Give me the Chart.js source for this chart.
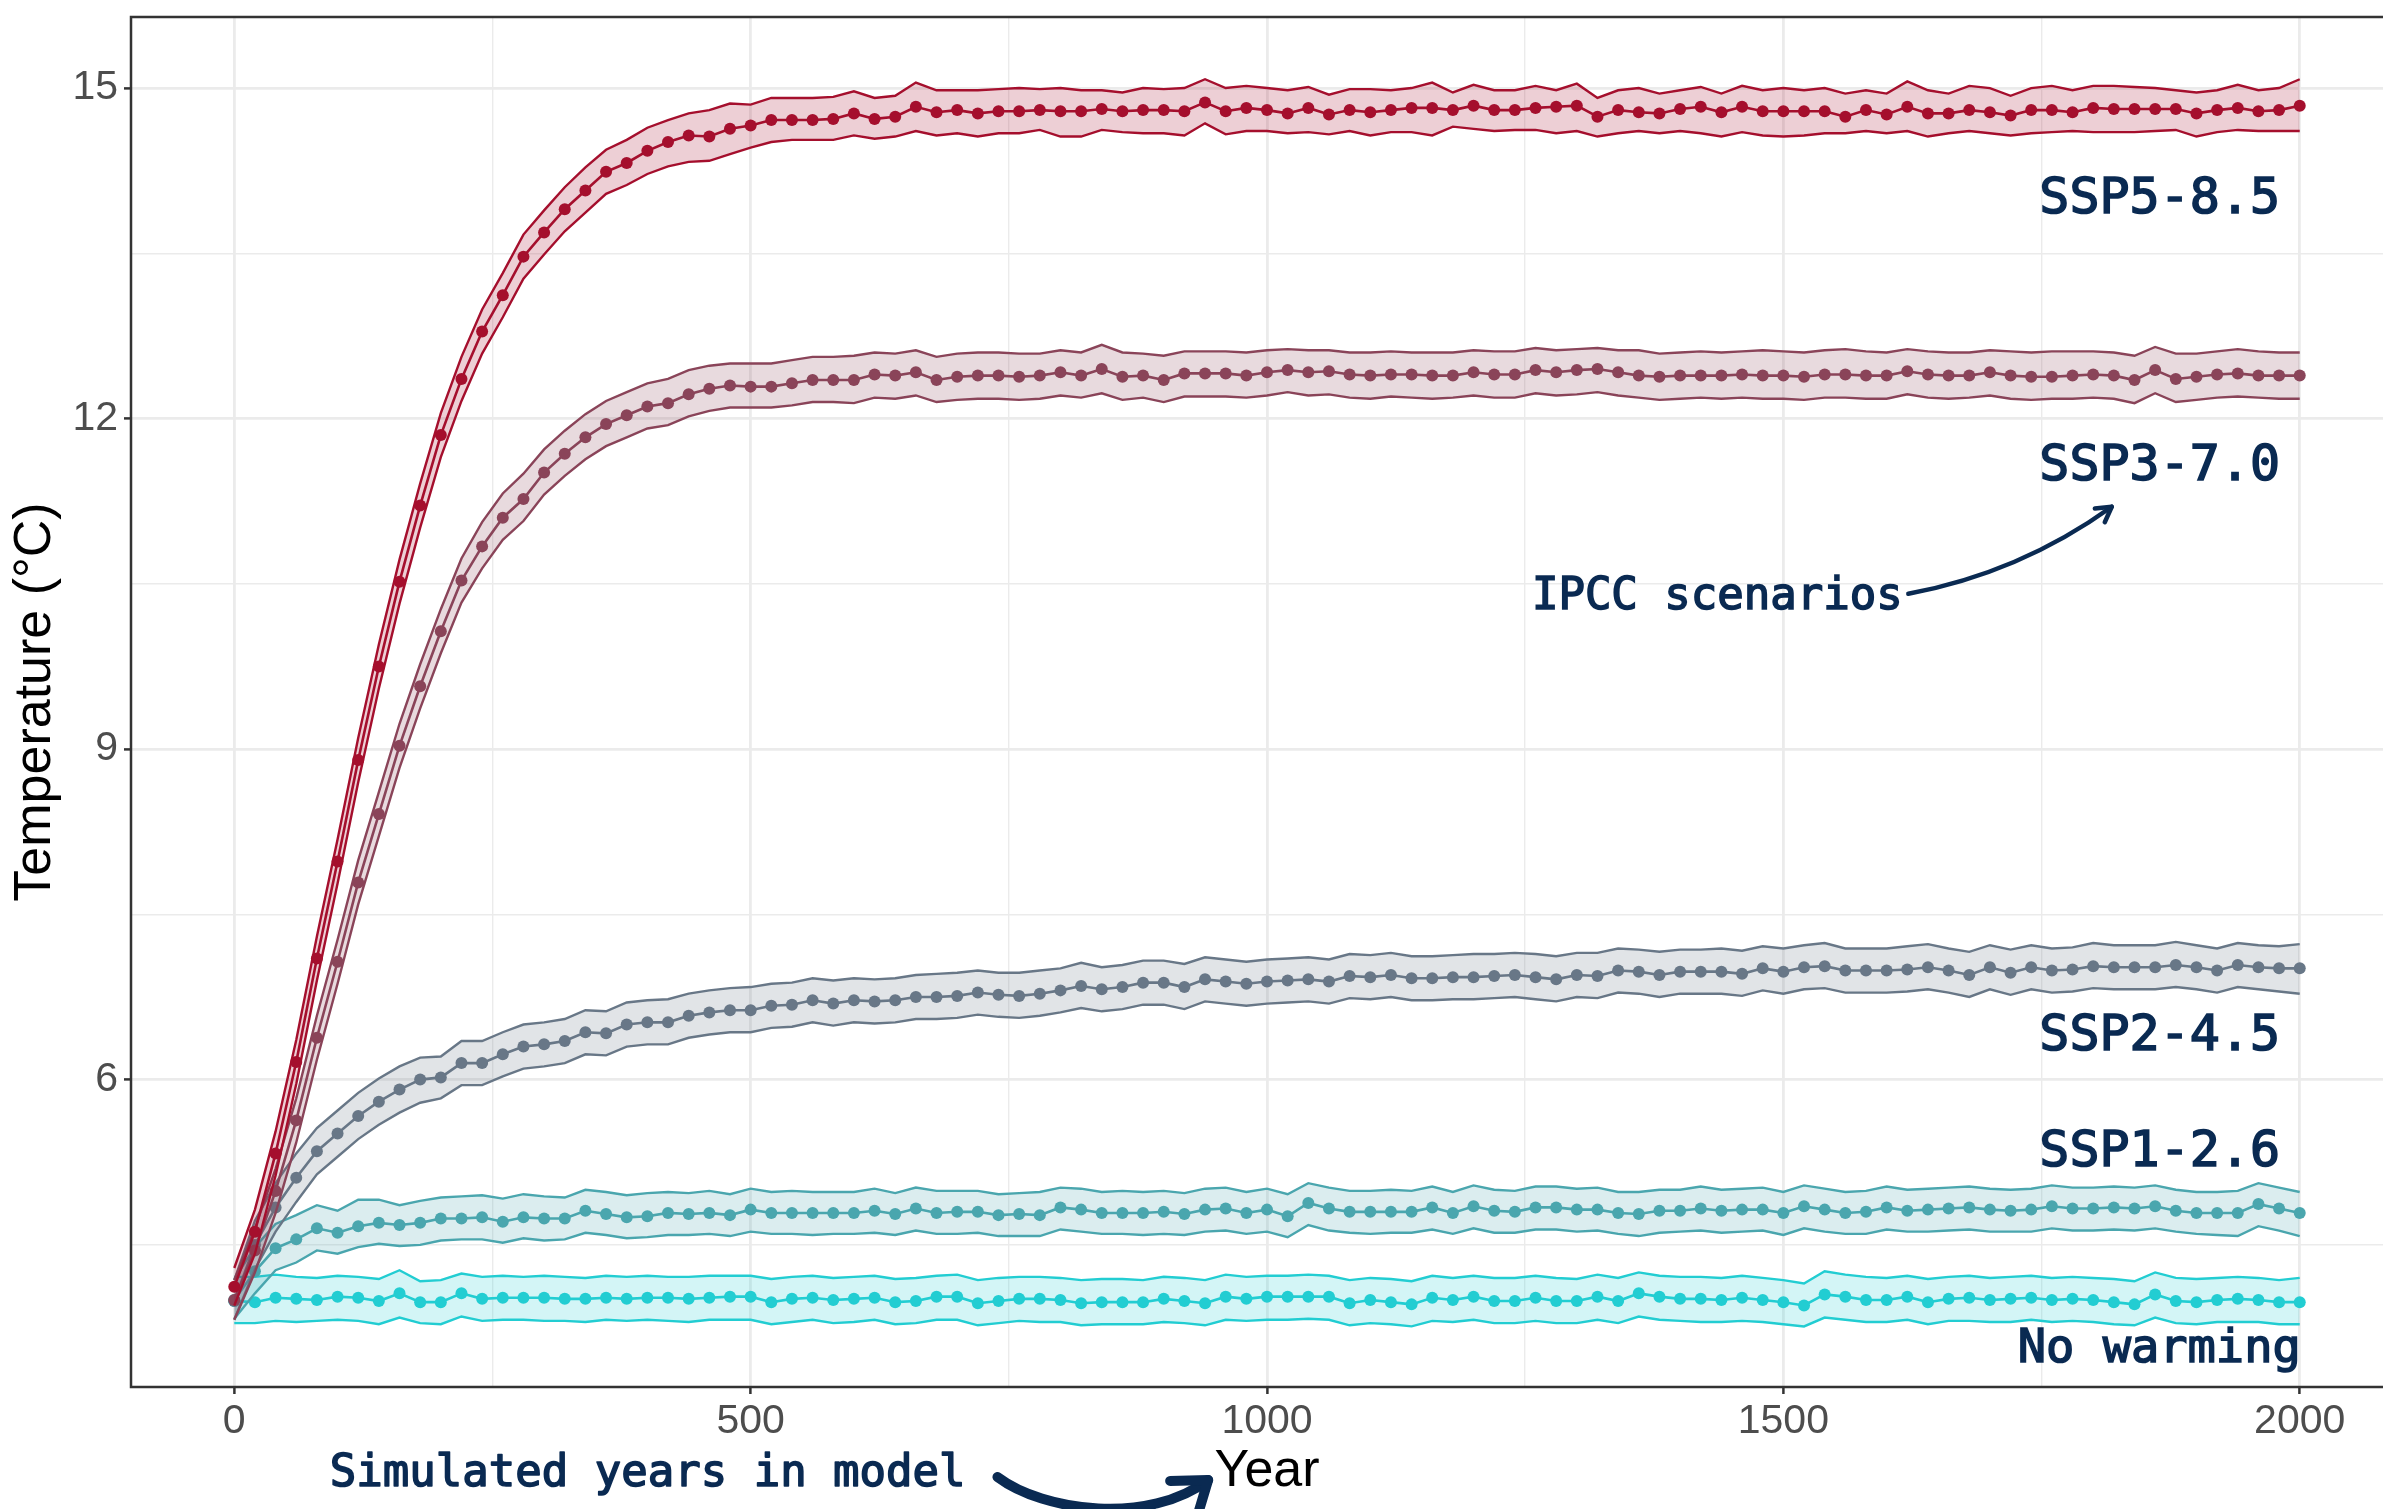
<!DOCTYPE html>
<html>
<head>
<meta charset="utf-8">
<script src="https://cdn.jsdelivr.net/npm/chart.js@4.4.1/dist/chart.umd.min.js"></script>
<style>
  html, body { margin: 0; padding: 0; background: #fff; overflow: hidden; }
  #wrap { width: 2409px; height: 1509px; }
</style>
</head>
<body>
<div id="wrap"><canvas id="c" width="2409" height="1509"></canvas></div>
<script>
// simulated year of each sample
const years = [
  0,20,40,60,80,100,120,140,160,180,
  200,220,240,260,280,300,320,340,360,380,
  400,420,440,460,480,500,520,540,560,580,
  600,620,640,660,680,700,720,740,760,780,
  800,820,840,860,880,900,920,940,960,980,
  1000,1020,1040,1060,1080,1100,1120,1140,1160,1180,
  1200,1220,1240,1260,1280,1300,1320,1340,1360,1380,
  1400,1420,1440,1460,1480,1500,1520,1540,1560,1580,
  1600,1620,1640,1660,1680,1700,1720,1740,1760,1780,
  1800,1820,1840,1860,1880,1900,1920,1940,1960,1980,
  2000
];

const ssp585Mean = [
  4.12,4.62,5.33,6.16,7.10,7.98,8.90,9.75,10.52,11.21,
  11.85,12.36,12.79,13.12,13.47,13.69,13.90,14.07,14.24,14.32,
  14.43,14.51,14.57,14.56,14.63,14.66,14.71,14.71,14.71,14.72,
  14.77,14.72,14.74,14.83,14.78,14.80,14.77,14.79,14.79,14.80,
  14.79,14.79,14.81,14.79,14.80,14.80,14.79,14.87,14.79,14.82,
  14.80,14.77,14.82,14.76,14.80,14.78,14.80,14.82,14.82,14.80,
  14.84,14.80,14.80,14.82,14.83,14.84,14.74,14.80,14.78,14.77,
  14.81,14.83,14.78,14.83,14.79,14.79,14.79,14.79,14.74,14.80,
  14.76,14.83,14.77,14.77,14.80,14.78,14.75,14.80,14.80,14.78,
  14.82,14.81,14.81,14.81,14.81,14.77,14.80,14.82,14.79,14.80,
  14.84
];
const ssp585Upper = [
  4.29,4.82,5.53,6.36,7.30,8.18,9.10,9.95,10.72,11.41,
  12.05,12.56,12.99,13.32,13.67,13.89,14.10,14.28,14.44,14.53,
  14.64,14.71,14.77,14.80,14.86,14.85,14.91,14.91,14.91,14.92,
  14.97,14.91,14.93,15.05,14.98,14.98,14.98,14.99,15.00,14.99,
  15.00,14.98,14.98,14.96,15.00,14.99,15.00,15.08,15.00,15.02,
  15.00,14.98,15.01,14.94,14.99,14.99,14.98,15.00,15.05,14.96,
  15.03,14.98,14.98,15.02,14.98,15.04,14.91,14.98,15.00,14.95,
  14.98,15.01,14.95,15.02,14.98,15.00,14.98,15.00,14.95,14.98,
  14.95,15.06,14.98,14.95,15.02,15.00,14.93,15.00,15.02,14.98,
  15.02,15.02,15.01,15.00,14.98,14.96,14.98,15.03,14.98,15.00,
  15.08
];
const ssp585Lower = [
  3.95,4.42,5.13,5.96,6.90,7.78,8.70,9.55,10.32,11.01,
  11.65,12.16,12.59,12.92,13.27,13.49,13.70,13.87,14.04,14.12,
  14.22,14.29,14.33,14.34,14.40,14.46,14.51,14.53,14.53,14.53,
  14.57,14.54,14.56,14.61,14.57,14.59,14.56,14.59,14.59,14.62,
  14.56,14.56,14.62,14.60,14.59,14.59,14.57,14.68,14.58,14.61,
  14.61,14.59,14.60,14.58,14.61,14.57,14.60,14.60,14.57,14.65,
  14.63,14.61,14.62,14.62,14.59,14.61,14.56,14.59,14.61,14.59,
  14.61,14.59,14.56,14.60,14.57,14.56,14.57,14.59,14.59,14.61,
  14.59,14.61,14.56,14.59,14.61,14.59,14.57,14.59,14.60,14.61,
  14.60,14.60,14.60,14.61,14.62,14.56,14.60,14.62,14.61,14.61,
  14.61
];

const ssp370Mean = [
  4.00,4.45,4.99,5.63,6.38,7.07,7.79,8.41,9.03,9.57,
  10.07,10.53,10.84,11.10,11.27,11.51,11.68,11.83,11.95,12.03,
  12.11,12.14,12.22,12.27,12.30,12.29,12.29,12.32,12.35,12.35,
  12.35,12.40,12.39,12.42,12.35,12.38,12.39,12.39,12.38,12.39,
  12.42,12.39,12.45,12.38,12.39,12.35,12.41,12.41,12.41,12.39,
  12.42,12.44,12.42,12.43,12.40,12.39,12.40,12.40,12.39,12.39,
  12.42,12.40,12.40,12.44,12.42,12.44,12.45,12.42,12.39,12.38,
  12.39,12.39,12.39,12.40,12.39,12.39,12.38,12.40,12.40,12.39,
  12.39,12.43,12.40,12.39,12.39,12.42,12.39,12.38,12.38,12.39,
  12.40,12.39,12.35,12.44,12.36,12.38,12.40,12.41,12.39,12.39,
  12.39
];
const ssp370Upper = [
  4.18,4.65,5.19,5.83,6.58,7.27,7.99,8.61,9.23,9.77,
  10.27,10.73,11.06,11.32,11.50,11.72,11.89,12.04,12.16,12.24,
  12.32,12.36,12.44,12.48,12.50,12.50,12.50,12.53,12.56,12.56,
  12.57,12.60,12.59,12.62,12.56,12.59,12.60,12.60,12.59,12.59,
  12.62,12.60,12.67,12.60,12.59,12.57,12.61,12.61,12.61,12.60,
  12.62,12.63,12.62,12.62,12.60,12.60,12.61,12.60,12.60,12.60,
  12.62,12.61,12.61,12.64,12.62,12.63,12.64,12.62,12.62,12.59,
  12.60,12.61,12.60,12.61,12.62,12.61,12.60,12.62,12.63,12.61,
  12.60,12.63,12.61,12.60,12.60,12.62,12.61,12.60,12.61,12.61,
  12.61,12.60,12.57,12.65,12.59,12.59,12.61,12.63,12.61,12.60,
  12.60
];
const ssp370Lower = [
  3.82,4.25,4.79,5.43,6.18,6.87,7.59,8.21,8.83,9.37,
  9.87,10.33,10.64,10.90,11.07,11.31,11.48,11.63,11.75,11.83,
  11.91,11.94,12.02,12.07,12.10,12.10,12.10,12.12,12.15,12.15,
  12.14,12.19,12.18,12.21,12.15,12.17,12.18,12.18,12.17,12.18,
  12.21,12.19,12.23,12.17,12.19,12.15,12.20,12.20,12.20,12.19,
  12.21,12.24,12.21,12.22,12.19,12.18,12.20,12.19,12.18,12.19,
  12.21,12.19,12.19,12.23,12.21,12.22,12.24,12.21,12.19,12.17,
  12.18,12.19,12.18,12.19,12.18,12.18,12.17,12.19,12.19,12.18,
  12.18,12.22,12.19,12.18,12.19,12.21,12.18,12.17,12.18,12.18,
  12.19,12.18,12.14,12.23,12.15,12.17,12.19,12.20,12.19,12.18,
  12.18
];

const ssp245Mean = [
  3.99,4.50,4.84,5.11,5.35,5.51,5.67,5.80,5.91,6.00,
  6.02,6.15,6.15,6.23,6.30,6.32,6.35,6.43,6.42,6.50,
  6.52,6.52,6.58,6.61,6.63,6.63,6.67,6.68,6.72,6.69,
  6.72,6.71,6.72,6.75,6.75,6.76,6.79,6.77,6.76,6.78,
  6.81,6.85,6.82,6.84,6.88,6.88,6.84,6.91,6.89,6.87,
  6.89,6.90,6.91,6.89,6.94,6.93,6.95,6.92,6.92,6.93,
  6.93,6.94,6.95,6.93,6.91,6.95,6.94,6.99,6.98,6.95,
  6.98,6.98,6.98,6.96,7.01,6.98,7.02,7.03,6.99,6.99,
  6.99,7.00,7.02,6.99,6.95,7.02,6.97,7.02,6.99,7.00,
  7.03,7.02,7.02,7.02,7.04,7.02,6.99,7.04,7.02,7.01,
  7.01
];
const ssp245Upper = [
  4.18,4.72,5.06,5.33,5.56,5.72,5.88,6.01,6.12,6.20,
  6.21,6.35,6.35,6.43,6.50,6.52,6.55,6.63,6.62,6.70,
  6.72,6.73,6.78,6.81,6.83,6.84,6.87,6.88,6.92,6.90,
  6.92,6.91,6.92,6.95,6.96,6.97,6.99,6.97,6.97,6.99,
  7.01,7.06,7.02,7.04,7.08,7.08,7.05,7.11,7.09,7.07,
  7.09,7.10,7.11,7.09,7.14,7.13,7.15,7.12,7.12,7.13,
  7.14,7.14,7.15,7.14,7.12,7.15,7.15,7.19,7.18,7.16,
  7.18,7.18,7.19,7.17,7.21,7.19,7.22,7.24,7.19,7.19,
  7.19,7.21,7.23,7.19,7.16,7.22,7.18,7.22,7.19,7.20,
  7.24,7.22,7.22,7.22,7.25,7.22,7.19,7.24,7.22,7.21,
  7.23
];
const ssp245Lower = [
  3.82,4.28,4.62,4.89,5.14,5.30,5.46,5.59,5.70,5.79,
  5.83,5.95,5.95,6.03,6.10,6.12,6.15,6.23,6.22,6.30,
  6.32,6.32,6.38,6.41,6.43,6.43,6.47,6.48,6.52,6.49,
  6.52,6.51,6.52,6.55,6.55,6.56,6.59,6.57,6.56,6.58,
  6.61,6.65,6.62,6.64,6.68,6.68,6.64,6.71,6.69,6.67,
  6.69,6.70,6.71,6.69,6.74,6.73,6.75,6.72,6.72,6.73,
  6.73,6.74,6.75,6.73,6.71,6.75,6.74,6.79,6.78,6.75,
  6.78,6.78,6.78,6.76,6.81,6.78,6.82,6.83,6.79,6.79,
  6.79,6.80,6.82,6.79,6.75,6.82,6.77,6.82,6.79,6.80,
  6.83,6.82,6.82,6.82,6.84,6.82,6.79,6.84,6.82,6.80,
  6.78
];

const ssp126Mean = [
  4.00,4.26,4.47,4.55,4.65,4.61,4.67,4.70,4.68,4.70,
  4.74,4.74,4.75,4.71,4.75,4.74,4.74,4.81,4.78,4.75,
  4.76,4.79,4.78,4.79,4.77,4.82,4.79,4.79,4.79,4.79,
  4.79,4.81,4.78,4.83,4.79,4.80,4.80,4.77,4.78,4.77,
  4.84,4.82,4.79,4.79,4.79,4.80,4.78,4.82,4.83,4.79,
  4.82,4.76,4.88,4.83,4.80,4.80,4.80,4.80,4.84,4.79,
  4.85,4.81,4.80,4.84,4.84,4.82,4.82,4.79,4.78,4.81,
  4.81,4.83,4.81,4.82,4.82,4.79,4.85,4.82,4.79,4.80,
  4.84,4.81,4.82,4.83,4.84,4.82,4.81,4.82,4.85,4.83,
  4.83,4.84,4.83,4.85,4.81,4.79,4.79,4.79,4.87,4.83,
  4.79
];
const ssp126Upper = [
  4.19,4.48,4.69,4.77,4.86,4.81,4.91,4.91,4.86,4.90,
  4.93,4.94,4.95,4.92,4.96,4.94,4.93,5.00,4.98,4.95,
  4.97,4.98,4.97,4.99,4.96,5.01,4.98,4.99,4.98,4.98,
  4.98,5.01,4.97,5.02,4.99,4.99,4.99,4.96,4.97,4.98,
  5.02,5.01,4.98,4.99,4.98,4.99,4.97,5.01,5.02,4.98,
  5.01,4.96,5.06,5.02,4.99,4.99,5.00,4.99,5.03,4.98,
  5.04,5.00,4.99,5.03,5.03,5.01,5.02,4.98,4.98,5.00,
  5.00,5.03,5.00,5.01,5.02,4.98,5.04,5.01,4.98,4.99,
  5.03,5.00,5.01,5.02,5.03,5.01,5.00,5.01,5.04,5.02,
  5.02,5.03,5.02,5.04,5.00,4.98,4.98,4.99,5.06,5.02,
  4.98
];
const ssp126Lower = [
  3.83,4.06,4.27,4.34,4.45,4.42,4.48,4.51,4.49,4.50,
  4.54,4.55,4.55,4.52,4.56,4.54,4.55,4.61,4.59,4.56,
  4.57,4.59,4.59,4.60,4.58,4.62,4.60,4.60,4.59,4.60,
  4.60,4.61,4.59,4.63,4.60,4.60,4.61,4.58,4.58,4.58,
  4.64,4.62,4.60,4.60,4.59,4.60,4.59,4.62,4.63,4.60,
  4.62,4.57,4.68,4.63,4.61,4.60,4.61,4.61,4.64,4.60,
  4.65,4.61,4.61,4.64,4.64,4.62,4.63,4.60,4.58,4.61,
  4.62,4.63,4.61,4.62,4.63,4.59,4.65,4.62,4.60,4.60,
  4.64,4.62,4.62,4.63,4.64,4.62,4.62,4.62,4.65,4.63,
  4.63,4.64,4.63,4.65,4.62,4.60,4.59,4.58,4.67,4.63,
  4.58
];

const noWarmMean = [
  3.99,3.98,4.02,4.01,4.00,4.03,4.02,3.99,4.06,3.98,
  3.98,4.06,4.01,4.02,4.02,4.02,4.01,4.01,4.02,4.01,
  4.02,4.02,4.01,4.02,4.03,4.03,3.98,4.01,4.02,4.00,
  4.01,4.02,3.98,3.99,4.03,4.03,3.97,3.99,4.01,4.01,
  4.00,3.97,3.98,3.98,3.98,4.01,3.99,3.97,4.03,4.01,
  4.03,4.03,4.03,4.03,3.97,4.00,3.98,3.96,4.02,4.00,
  4.03,3.99,3.99,4.02,3.99,3.99,4.03,3.99,4.06,4.03,
  4.01,4.01,4.00,4.02,4.00,3.98,3.95,4.05,4.03,4.00,
  4.00,4.03,3.98,4.01,4.02,4.00,4.01,4.02,4.00,4.01,
  4.00,3.98,3.96,4.05,3.99,3.98,4.00,4.01,4.00,3.98,
  3.98
];
const noWarmUpper = [
  4.21,4.21,4.23,4.21,4.20,4.22,4.21,4.19,4.27,4.17,
  4.18,4.24,4.21,4.22,4.21,4.22,4.21,4.20,4.22,4.21,
  4.22,4.21,4.21,4.22,4.22,4.22,4.19,4.21,4.22,4.20,
  4.21,4.22,4.19,4.20,4.22,4.23,4.18,4.20,4.21,4.21,
  4.20,4.18,4.19,4.19,4.18,4.21,4.20,4.18,4.23,4.21,
  4.22,4.22,4.23,4.22,4.18,4.20,4.19,4.17,4.22,4.20,
  4.22,4.20,4.20,4.22,4.20,4.19,4.23,4.20,4.25,4.22,
  4.21,4.21,4.20,4.22,4.20,4.18,4.15,4.26,4.23,4.21,
  4.20,4.22,4.19,4.21,4.22,4.20,4.21,4.22,4.20,4.21,
  4.20,4.19,4.17,4.25,4.20,4.19,4.20,4.21,4.20,4.18,
  4.20
];
const noWarmLower = [
  3.79,3.79,3.81,3.80,3.81,3.82,3.81,3.78,3.84,3.79,
  3.78,3.85,3.81,3.82,3.82,3.81,3.81,3.80,3.82,3.81,
  3.82,3.81,3.80,3.82,3.82,3.82,3.78,3.80,3.82,3.79,
  3.80,3.82,3.78,3.79,3.82,3.82,3.77,3.79,3.81,3.80,
  3.80,3.77,3.78,3.78,3.78,3.80,3.79,3.77,3.82,3.81,
  3.82,3.82,3.83,3.82,3.77,3.79,3.78,3.76,3.81,3.80,
  3.82,3.79,3.79,3.81,3.79,3.79,3.82,3.79,3.85,3.82,
  3.81,3.80,3.80,3.81,3.80,3.78,3.76,3.84,3.82,3.80,
  3.80,3.82,3.78,3.81,3.81,3.80,3.80,3.82,3.80,3.81,
  3.80,3.78,3.77,3.84,3.79,3.78,3.80,3.80,3.80,3.78,
  3.78
];

// axis ticks (majors get labels, the rest are minor grid lines)
const xTicks = [0, 250, 500, 750, 1000, 1250, 1500, 1750, 2000];
const xLabels = ['0', '', '500', '', '1000', '', '1500', '', '2000'];
const yTicks = [4.5, 6, 7.5, 9, 10.5, 12, 13.5, 15];
const yLabels = ['', '6', '', '9', '', '12', '', '15'];

// series top to bottom in drawing order
const series = [
  { name: 'SSP5-8.5',   mean: ssp585Mean, upper: ssp585Upper, lower: ssp585Lower, color: '#A50F2D', rgb: '165,15,45' },
  { name: 'SSP3-7.0',   mean: ssp370Mean, upper: ssp370Upper, lower: ssp370Lower, color: '#8A4459', rgb: '138,68,89' },
  { name: 'SSP2-4.5',   mean: ssp245Mean, upper: ssp245Upper, lower: ssp245Lower, color: '#687787', rgb: '104,119,135' },
  { name: 'SSP1-2.6',   mean: ssp126Mean, upper: ssp126Upper, lower: ssp126Lower, color: '#4AA6AE', rgb: '74,166,174' },
  { name: 'No warming', mean: noWarmMean, upper: noWarmUpper, lower: noWarmLower, color: '#22CDD2', rgb: '34,205,210' }
];

const navy = '#0A2A52';
const mono = "'DejaVu Sans Mono', monospace";

const toPts = arr => arr.map((v, i) => ({ x: years[i], y: v }));

const datasets = [];
series.forEach((s, k) => {
  datasets.push({
    label: s.name + ' low', data: toPts(s.lower), order: k*3 + 2,
    borderColor: s.color, borderWidth: 2.4, pointRadius: 0, fill: false
  });
  datasets.push({
    label: s.name + ' high', data: toPts(s.upper), order: k*3 + 1,
    borderColor: s.color, borderWidth: 2.4, pointRadius: 0,
    fill: '-1', backgroundColor: `rgba(${s.rgb},0.2)`
  });
  datasets.push({
    label: s.name, data: toPts(s.mean), order: k*3,
    borderColor: s.color, borderWidth: 2.6, pointRadius: 6,
    pointBackgroundColor: s.color, pointBorderWidth: 0, fill: false
  });
});

// annotation text, placed in data units
const notes = [
  { text: 'SSP5-8.5',       x: 1981,   y: 13.87, size: 50, align: 'right' },
  { text: 'SSP3-7.0',       x: 1981,   y: 11.44, size: 50, align: 'right' },
  { text: 'SSP2-4.5',       x: 1981,   y: 6.27,  size: 50, align: 'right' },
  { text: 'SSP1-2.6',       x: 1981,   y: 5.22,  size: 50, align: 'right' },
  { text: 'No warming',     x: 2001,   y: 3.44,  size: 47, align: 'right' },
  { text: 'IPCC scenarios', x: 1256.5, y: 10.27, size: 44, align: 'left' }
];

// regular weight with a thin outline reads like the medium mono face of the original
function monoText(ctx, text, px, py, size, align) {
  ctx.font = `${size}px ${mono}`;
  ctx.textAlign = align;
  ctx.lineWidth = 1.6;
  ctx.fillText(text, px, py);
  ctx.strokeText(text, px, py);
}

function drawArrow(ctx, p, width, head, ang) {
  ctx.lineWidth = width;
  ctx.lineCap = 'round';
  ctx.lineJoin = 'round';
  ctx.beginPath();
  ctx.moveTo(p[0][0], p[0][1]);
  if (p.length === 3) ctx.quadraticCurveTo(p[1][0], p[1][1], p[2][0], p[2][1]);
  else ctx.bezierCurveTo(p[1][0], p[1][1], p[2][0], p[2][1], p[3][0], p[3][1]);
  ctx.stroke();
  const e = p[p.length-1], b = p[p.length-2];
  const a = Math.atan2(e[1]-b[1], e[0]-b[0]);
  ctx.beginPath();
  ctx.moveTo(e[0] - head*Math.cos(a-ang), e[1] - head*Math.sin(a-ang));
  ctx.lineTo(e[0], e[1]);
  ctx.lineTo(e[0] - head*Math.cos(a+ang), e[1] - head*Math.sin(a+ang));
  ctx.stroke();
}

const annotate = {
  id: 'annotate',
  afterDraw(chart) {
    const { ctx, chartArea: a, scales: { x, y } } = chart;
    ctx.save();
    // panel border like theme_bw
    ctx.strokeStyle = '#333333';
    ctx.lineWidth = 2.5;
    ctx.strokeRect(a.left, a.top, a.right - a.left, a.bottom - a.top);

    ctx.fillStyle = navy;
    ctx.strokeStyle = navy;
    ctx.textBaseline = 'alphabetic';
    notes.forEach(n => monoText(ctx, n.text, x.getPixelForValue(n.x), y.getPixelForValue(n.y), n.size, n.align));

    // curved arrow from "IPCC scenarios" up to the SSP3 label
    drawArrow(ctx, [
      [x.getPixelForValue(1621), y.getPixelForValue(10.41)],
      [x.getPixelForValue(1729), y.getPixelForValue(10.60)],
      [x.getPixelForValue(1818), y.getPixelForValue(11.20)]
    ], 4.5, 17, Math.PI/6);

    // bottom note and its thick arrow toward the axis title
    monoText(ctx, 'Simulated years in model', x.getPixelForValue(92.5), 1486, 44, 'left');
    drawArrow(ctx, [
      [x.getPixelForValue(739), 1477],
      [x.getPixelForValue(784), 1512],
      [x.getPixelForValue(886), 1525],
      [x.getPixelForValue(943), 1480]
    ], 10, 38, Math.PI/5);
    ctx.restore();
  }
};

Chart.defaults.font.family = "'Liberation Sans', Arial, sans-serif";

new Chart(document.getElementById('c'), {
  type: 'line',
  data: { datasets },
  plugins: [annotate],
  options: {
    responsive: false,
    animation: false,
    devicePixelRatio: 1,
    layout: { padding: { top: 17, right: 1, bottom: 0, left: 0 } },
    plugins: { legend: { display: false }, tooltip: { enabled: false } },
    elements: { line: { tension: 0 } },
    scales: {
      x: {
        type: 'linear', min: -100, max: 2100,
        afterFit: s => { s.height = 122; s.paddingLeft = 0; s.paddingRight = 0; },
        afterBuildTicks: s => { s.ticks = xTicks.map(v => ({ value: v })); },
        ticks: {
          padding: 3, color: '#4D4D4D', font: { size: 41 }, maxRotation: 0, autoSkip: false,
          callback: (v, i) => xLabels[i]
        },
        grid: {
          color: '#EBEBEB',
          lineWidth: c => (xLabels[c.index] ? 2.8 : 1.4),
          tickLength: 7,
          tickWidth: 2.5,
          tickColor: c => (xLabels[c.index] ? '#333333' : 'rgba(0,0,0,0)')
        },
        border: { display: false },
        title: { display: true, text: 'Year', color: '#000', font: { size: 52 }, padding: { top: 0, bottom: 6 } }
      },
      y: {
        type: 'linear', min: 3.21, max: 15.645,
        afterFit: s => { s.width = 131; s.paddingTop = 0; s.paddingBottom = 0; },
        afterBuildTicks: s => { s.ticks = yTicks.map(v => ({ value: v })); },
        ticks: {
          padding: 6, color: '#4D4D4D', font: { size: 41 }, autoSkip: false,
          callback: (v, i) => yLabels[i]
        },
        grid: {
          color: '#EBEBEB',
          lineWidth: c => (yLabels[c.index] ? 2.8 : 1.4),
          tickLength: 7,
          tickWidth: 2.5,
          tickColor: c => (yLabels[c.index] ? '#333333' : 'rgba(0,0,0,0)')
        },
        border: { display: false },
        title: { display: true, text: 'Temperature (°C)', color: '#000', font: { size: 52 }, padding: { top: 4, bottom: 0 } }
      }
    }
  }
});
</script>
</body>
</html>
